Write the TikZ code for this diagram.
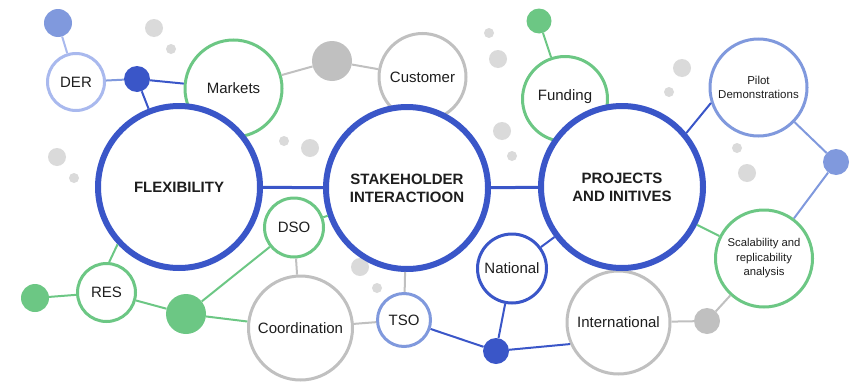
\documentclass[tikz,border=0pt]{standalone}
\usepackage{fontspec}
\setmainfont{Liberation Sans}
\usetikzlibrary{positioning}

\definecolor{hubblue}{HTML}{3A56C8}
\definecolor{paleblue}{HTML}{A9B9EE}
\definecolor{midblue}{HTML}{8099DD}
\definecolor{leafgreen}{HTML}{6CC784}
\definecolor{ringgray}{HTML}{C0C0C0}
\definecolor{dotgray}{HTML}{DADADA}
\definecolor{inktext}{HTML}{1E1E1E}

\begin{document}
\begin{tikzpicture}[
  x=1pt, y=-1pt,
  hub/.style={circle, draw=hubblue, line width=6pt, fill=white, inner sep=0pt, minimum size=162pt, align=center, text=inktext, font=\fontsize{15}{18}\selectfont\bfseries},
  ring/.style={circle, draw=#1, line width=3pt, fill=white, inner sep=0pt, align=center, text=inktext, font=\fontsize{15}{17}\selectfont},
  blob/.style={circle, fill=#1, draw=none, inner sep=0pt},
  link/.style={line width=2pt},
  hublink/.style={line width=3pt, hubblue}
]
\useasboundingbox (0,0) rectangle (856,383);

% Background dots
\foreach \px/\py/\pr in {154/28/9, 171/49/5, 284/141/5, 310/148/9, 57/157/9, 74/178/5,
    489/33/5, 498/59/9, 682/68/9, 669/92/5, 502/131/9, 512/156/5, 737/148/5, 747/173/9,
    360/267/9, 377/288/5}
  \fill[dotgray] (\px,\py) circle (\pr pt);

% Outer rings
\node[ring=paleblue, minimum size=57pt] (der) at (76,82) {DER};
\node[ring=leafgreen, minimum size=97pt] (markets) at (233.5,88.5) {Markets};
\node[ring=ringgray, minimum size=87pt] (customer) at (422.5,77) {Customer};
\node[ring=leafgreen, minimum size=85pt] (funding) at (565,99) {\raisebox{8pt}{Funding}};
\node[ring=midblue, minimum size=97pt, font=\fontsize{11.5}{14}\selectfont] (pilot) at (758.5,87.5) {Pilot\\Demonstrations};
\node[ring=leafgreen, minimum size=97pt, font=\fontsize{11.3}{14.5}\selectfont] (scal) at (764,258.5) {Scalability and\\replicability\\analysis};
\node[ring=ringgray, minimum size=103pt] (intl) at (618.5,322.5) {International};
\node[ring=hubblue, minimum size=69pt] (national) at (512,268.5) {National};
\node[ring=midblue, minimum size=53pt] (tso) at (404,320) {TSO};
\node[ring=leafgreen, minimum size=59pt] (dso) at (294,227.5) {DSO};
\node[ring=ringgray, minimum size=104pt] (coord) at (300.5,328) {Coordination};
\node[ring=leafgreen, minimum size=58pt] (res) at (106.5,292.5) {RES};

% Hubs
\node[hub] (flex) at (179,187) {FLEXIBILITY};
\node[hub] (stake) at (407,188) {STAKEHOLDER\\INTERACTIOON};
\node[hub] (proj) at (622,187) {PROJECTS\\AND INITIVES};

% Joints
\node[blob=midblue, minimum size=28pt] (dertop) at (58,23) {};
\node[blob=hubblue, minimum size=26pt] (derjoint) at (137,79) {};
\node[blob=ringgray, minimum size=40pt] (mktjoint) at (332,61) {};
\node[blob=leafgreen, minimum size=25pt] (fundtop) at (539,21) {};
\node[blob=midblue, minimum size=26pt] (pilotjoint) at (836,162) {};
\node[blob=ringgray, minimum size=26pt] (scaljoint) at (707,321) {};
\node[blob=hubblue, minimum size=26pt] (natjoint) at (496,351) {};
\node[blob=leafgreen, minimum size=28pt] (resleft) at (35,298) {};
\node[blob=leafgreen, minimum size=40pt] (resjoint) at (186,314) {};

% Hub links
\draw[hublink] (flex) -- (stake);
\draw[hublink] (stake) -- (proj);

% Flexibility side
\draw[link, paleblue] (dertop) -- (der);
\draw[link, midblue] (der) -- (derjoint);
\draw[link, hubblue] (derjoint) -- (markets);
\draw[link, hubblue] (derjoint) -- (flex);
\draw[link, ringgray] (markets) -- (mktjoint);
\draw[link, ringgray] (mktjoint) -- (customer);
\draw[link, leafgreen] (res.85) -- (flex.223);
\draw[link, leafgreen] (resleft) -- (res);
\draw[link, leafgreen] (res) -- (resjoint);
\draw[link, leafgreen] (resjoint) -- (dso);
\draw[link, leafgreen] (resjoint) -- (coord);

% Stakeholder side
\draw[link, leafgreen] (dso) -- (stake);
\draw[link, ringgray] (dso) -- (coord);
\draw[link, ringgray] (coord) -- (tso);
\draw[link, ringgray] (stake) -- (tso);
\draw[link, hubblue] (tso) -- (natjoint);

% Projects side
\draw[link, leafgreen] (fundtop) -- (funding);
\draw[link, hubblue] (proj.40) -- (pilot.198);
\draw[link, midblue] (pilot) -- (pilotjoint);
\draw[link, midblue] (pilotjoint) -- (scal);
\draw[link, leafgreen] (proj) -- (scal);
\draw[link, ringgray] (scal) -- (scaljoint);
\draw[link, ringgray] (scaljoint) -- (intl);
\draw[link, hubblue] (proj) -- (national);
\draw[link, hubblue] (national) -- (natjoint);
\draw[link, hubblue] (natjoint) -- (intl.204);

\end{tikzpicture}
\end{document}
